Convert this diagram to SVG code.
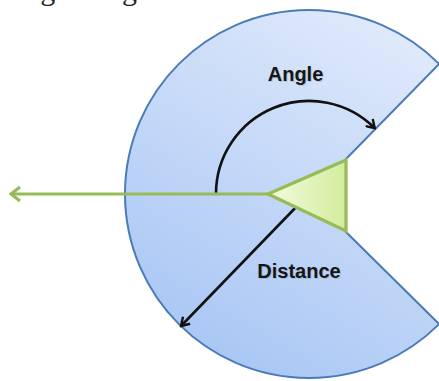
<svg xmlns="http://www.w3.org/2000/svg" width="439" height="381" viewBox="0 0 439 381">
  <style>
    .lbl { font-family: "Liberation Sans", Arial, sans-serif; font-weight: bold; font-size: 20px; fill: #161616; text-anchor: middle; }
    .shadow { font-family: "Liberation Sans", Arial, sans-serif; font-weight: bold; font-size: 20px; fill: #9aa6b8; opacity: 0.5; text-anchor: middle; }
    .top { font-family: "Liberation Serif", "Times New Roman", serif; font-size: 30px; fill: #222; }
    .blk { fill: none; stroke: #111; stroke-width: 2.6; }
    .grn { fill: none; stroke: #96bb58; stroke-width: 3.2; }
  </style>
  <defs>
    <linearGradient id="blueFill" x1="0.75" y1="0" x2="0.25" y2="1">
      <stop offset="0" stop-color="#dfe9fb"/>
      <stop offset="1" stop-color="#a6c5f4"/>
    </linearGradient>
    <linearGradient id="greenFill" x1="0" y1="0" x2="1" y2="0">
      <stop offset="0" stop-color="#f3fbdf"/>
      <stop offset="1" stop-color="#d2ec9c"/>
    </linearGradient>
    <marker id="blkHead" viewBox="0 0 12 12" refX="10" refY="6" markerWidth="12" markerHeight="12" markerUnits="userSpaceOnUse" orient="auto">
      <path d="M2,1 L10,6 L2,11" fill="none" stroke="#111" stroke-width="2.4"/>
    </marker>
    <marker id="grnHead" viewBox="0 0 14 16" refX="12" refY="8" markerWidth="14" markerHeight="16" markerUnits="userSpaceOnUse" orient="auto">
      <path d="M3,1 L12,8 L3,15" fill="none" stroke="#96bb58" stroke-width="3.2"/>
    </marker>
  </defs>

  <text class="top" x="17" y="0">ing a range</text>

  <g id="sector">
    <path d="M345,160 L439.1,63.9 A184,184 0 1 0 439.1,324.1 L345,231 Z" fill="url(#blueFill)" stroke="#4a7bb7" stroke-width="2"/>
  </g>

  <g id="connectors">
    <path id="angle-arc" class="blk" d="M216,194 A93,93 0 0 1 374.8,128.2" marker-end="url(#blkHead)"/>
    <line id="distance-arrow" class="blk" x1="300" y1="203" x2="181" y2="326" marker-end="url(#blkHead)"/>
    <line id="heading" class="grn" x1="268" y1="194" x2="11" y2="194" marker-end="url(#grnHead)"/>
  </g>

  <g id="robot">
    <path d="M268,194 L346,160 L346,231 Z" fill="url(#greenFill)" stroke="#96bb58" stroke-width="3.2" stroke-linejoin="miter"/>
  </g>

  <g id="label-angle">
    <text class="shadow" x="296.5" y="82">Angle</text>
    <text class="lbl" x="295.5" y="81">Angle</text>
  </g>
  <g id="label-distance">
    <text class="shadow" x="300" y="279">Distance</text>
    <text class="lbl" x="299" y="278">Distance</text>
  </g>
</svg>
